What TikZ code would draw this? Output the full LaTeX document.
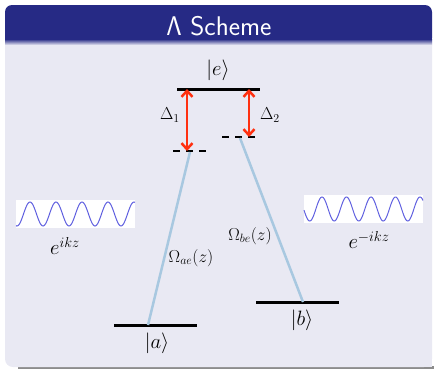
\documentclass[tikz,border=0pt]{standalone}
\usetikzlibrary{positioning, arrows.meta, calc}

\definecolor{titleblue}{RGB}{38,42,133}
\definecolor{bodybg}{RGB}{233,233,243}
\definecolor{arrowred}{RGB}{255,48,16}
\definecolor{linkblue}{RGB}{168,200,224}
\definecolor{waveblue}{RGB}{96,96,224}

\tikzset{
  level/.style={line width=3pt},
  virtual/.style={line width=2pt, dash pattern=on 7pt off 6pt},
  detuning/.style={arrowred, line width=2.5pt,
    {Straight Barb[length=6pt,width=11pt]}-{Straight Barb[length=6pt,width=11pt]}},
  coupling/.style={linkblue, line width=2.5pt},
  wave/.style={waveblue, line width=1pt},
  beambox/.style={fill=white, minimum width=119pt, minimum height=28pt, inner sep=0pt},
  lbl/.style={font=\fontsize{17}{20}\selectfont, inner sep=0pt},
  biglbl/.style={font=\fontsize{20}{24}\selectfont, inner sep=0pt}
}

\begin{document}
\begin{tikzpicture}[x=1pt, y=-1pt]
\useasboundingbox (0,0) rectangle (434,370);
% frame
\fill[black!45] (18,366) rectangle (434,369);
\fill[bodybg, rounded corners=8pt] (5,30) rectangle (432,367);
\fill[bodybg] (300,300) rectangle (432,367);
\fill[titleblue, rounded corners=7pt] (5,5) rectangle (432,45);
\fill[titleblue] (5,30) rectangle (432,40);
\shade[top color=titleblue, bottom color=bodybg] (5,39) rectangle (432,45);
\node[text=white, font=\sffamily\fontsize{27}{30}\selectfont, anchor=base, inner sep=0pt] (title) at (219,35) {Λ Scheme};

% levels
\coordinate (e-left) at (177,89);
\coordinate (e-right) at (260,89);
\coordinate (a-left) at (114,325);
\coordinate (a-right) at (197,325);
\coordinate (b-left) at (256,302);
\coordinate (b-right) at (339,302);
\coordinate (v1-left) at (173,151);
\coordinate (v1-right) at (207,151);
\coordinate (v2-left) at (222,137);
\coordinate (v2-right) at (256,137);
\draw[level] (e-left) -- (e-right);
\draw[level] (a-left) -- (a-right);
\draw[level] (b-left) -- (b-right);
\draw[virtual] (v1-left) -- (v1-right);
\draw[virtual] (v2-left) -- (v2-right);

% detunings
\coordinate (d1-top) at (187,89);
\coordinate (d1-bot) at (187,151);
\coordinate (d2-top) at (249,89);
\coordinate (d2-bot) at (249,137);
\draw[detuning] (d1-top) -- (d1-bot);
\draw[detuning] (d2-top) -- (d2-bot);

% couplings
\coordinate (v1-mid) at (190,152);
\coordinate (v2-mid) at (240,138);
\coordinate (a-mid) at (148,325);
\coordinate (b-mid) at (303,302);
\draw[coupling] (v1-mid) -- (a-mid);
\draw[coupling] (v2-mid) -- (b-mid);

% labels
\node[biglbl] (ket-e) at (218,70) {$|e\rangle$};
\node[biglbl] (ket-a) at (157,343) {$|a\rangle$};
\node[biglbl] (ket-b) at (302,320) {$|b\rangle$};
\node[lbl] (delta-1) at (170,115) {$\Delta_1$};
\node[lbl] (delta-2) at (270,115) {$\Delta_2$};
\node[lbl] (omega-ae) at (191,258) {$\Omega_{ae}(z)$};
\node[lbl] (omega-be) at (250,236) {$\Omega_{be}(z)$};

% beams
\node[beambox] (beam-l) at (75.5,214) {};
\node[beambox] (beam-r) at (363.5,209) {};
\draw[wave] plot[domain=16:135, samples=150] (\x, {214 - 12*cos(13.846*(\x-30))});
\draw[wave] plot[domain=304:423, samples=150] (\x, {209 - 12*cos(14.694*(\x-322))});
\node[biglbl] (phase-l) at (65,246) {$e^{ikz}$};
\node[biglbl] (phase-r) at (369,240) {$e^{-ikz}$};
\end{tikzpicture}
\end{document}
